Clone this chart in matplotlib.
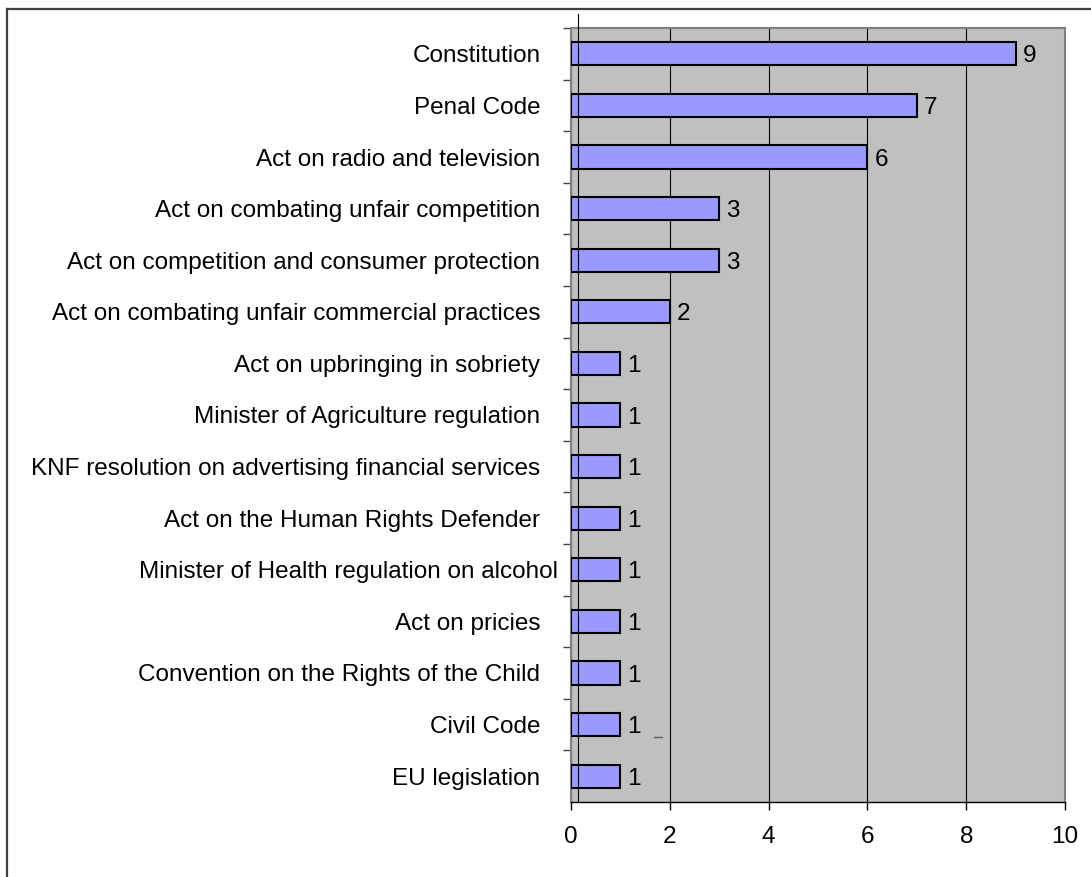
import matplotlib.pyplot as plt
from matplotlib.lines import Line2D
from matplotlib.transforms import ScaledTranslation
import numpy as np

plt.rcParams['font.family'] = ['Liberation Sans', 'DejaVu Sans']

# Legal acts cited, most frequent first
acts = [
    "Constitution",
    "Penal Code",
    "Act on radio and television",
    "Act on combating unfair competition",
    "Act on competition and consumer protection",
    "Act on combating unfair commercial practices",
    "Act on upbringing in sobriety",
    "Minister of Agriculture regulation",
    "KNF resolution on advertising financial services",
    "Act on the Human Rights Defender",
    "Minister of Health regulation on alcohol",
    "Act on pricies",
    "Convention on the Rights of the Child",
    "Civil Code",
    "EU legislation",
]
counts = [9, 7, 6, 3, 3, 2, 1, 1, 1, 1, 1, 1, 1, 1, 1]
x_ticks = [0, 2, 4, 6, 8, 10]

FS = 17.5
W, H = 1091, 877
fig = plt.figure(figsize=(W / 100, H / 100), dpi=100)
ax = fig.add_axes([571 / W, 1 - 802 / H, 494 / W, 774 / H])
ax.set_facecolor('#C0C0C0')

y = np.arange(len(acts))
ax.barh(y, counts, height=0.45, color='#9999FF', edgecolor='black',
        linewidth=1.5, zorder=3)
for yi, c in zip(y, counts):
    ax.annotate(str(c), (c, yi), xytext=(5, 0), textcoords='offset points',
                va='center_baseline', ha='left', fontsize=FS, zorder=4)

ax.set_xlim(0, 10)
ax.set_ylim(len(acts) - 0.5, -0.5)
ax.set_xticks(x_ticks)
ax.set_xticklabels([str(t) for t in x_ticks], fontsize=FS)
ax.xaxis.grid(True, color='black', linewidth=0.8, zorder=1)
ax.set_axisbelow(True)

# category labels on major ticks, tick marks on the band boundaries
ax.set_yticks(y)
ax.set_yticklabels(acts, fontsize=FS)
ax.set_yticks(np.arange(len(acts)) - 0.5, minor=True)
ax.tick_params(axis='y', which='major', length=0, pad=22)
ax.tick_params(axis='y', which='minor', length=6, width=1, color='#404040')
ax.tick_params(axis='x', length=6, width=1, pad=11, color='black')

# the alcohol regulation label sits closer to the axis
lbl = ax.get_yticklabels()[acts.index("Minister of Health regulation on alcohol")]
lbl.set_transform(lbl.get_transform() + ScaledTranslation(18 / 100, 0, fig.dpi_scale_trans))

for side in ['top', 'right', 'left']:
    ax.spines[side].set_color('#808080')
    ax.spines[side].set_linewidth(1.5)
ax.spines['bottom'].set_color('black')
ax.spines['bottom'].set_linewidth(1)

# stray marks left in the drawing
fig.add_artist(Line2D([578 / W, 578 / W], [1 - 14 / H, 1 - 802 / H],
                      color='black', linewidth=0.8, zorder=5))
fig.add_artist(Line2D([654 / W, 662 / W], [1 - 737 / H, 1 - 737 / H],
                      color='#606060', linewidth=1))

# frame around the chart
fig.add_artist(Line2D([6.5 / W, 1], [1 - 8.5 / H, 1 - 8.5 / H],
                      color='#404040', linewidth=1.6))
fig.add_artist(Line2D([6.5 / W, 6.5 / W], [1 - 8.5 / H, 0],
                      color='#404040', linewidth=1.6))

fig.savefig('out.png', dpi=100)
